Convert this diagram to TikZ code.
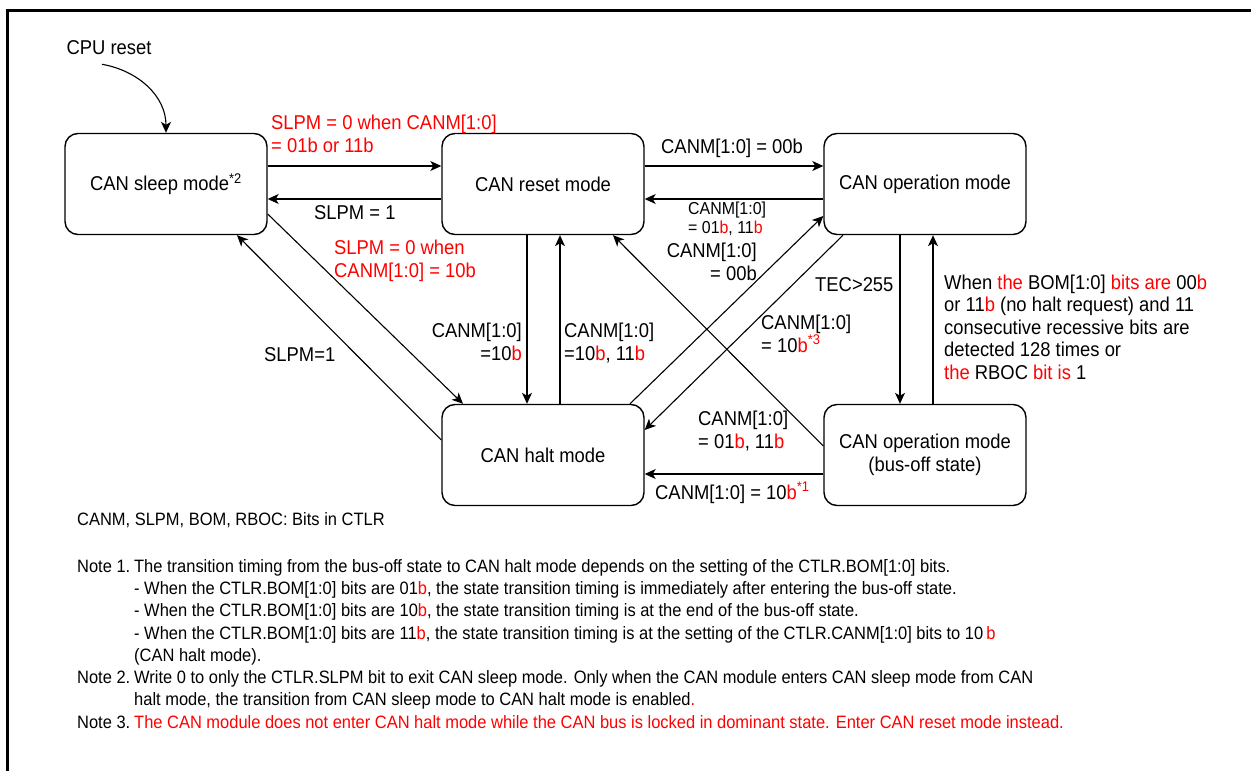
\documentclass[tikz,border=0pt]{standalone}
\usepackage{fontspec}
\setmainfont{Liberation Sans}[FakeStretch=0.92]
\usetikzlibrary{arrows.meta}
\newcommand\rd[1]{\textcolor{red}{#1}}
\newcommand\lblfont{\fontsize{20}{22.5}\selectfont}
\newcommand\smlfont{\fontsize{17.3}{18.5}\selectfont}
\newcommand\notefont{\fontsize{17.9}{22.3}\selectfont}
\newcommand\nt[1]{\makebox[57pt][l]{#1}}
\begin{document}
\begin{tikzpicture}
  [x=1pt,y=-1pt,every node/.style={inner sep=0pt,font=\lblfont}]
  \tikzstyle{modebox} = [draw,rounded corners=13pt,line width=1.4pt,minimum width=202pt,minimum height=101pt,align=center]
  \tikzstyle{trans} = [line width=1.1pt,-{Stealth[length=11pt,width=10pt,inset=3pt]}]
  \useasboundingbox (0,0) rectangle (1251,771);
  \draw[line width=3pt] (1251,10) -- (7.5,10) -- (7.5,771);
  % states
  \node[modebox] (sleep)  at (166,184) {CAN sleep mode\textsuperscript{*2}};
  \node[modebox] (reset)  at (543,184) {CAN reset mode};
  \node[modebox] (op)     at (925,184) {CAN operation mode};
  \node[modebox] (halt)   at (543,455) {CAN halt mode};
  \node[modebox] (busoff) at (925,455) {CAN operation mode\\(bus-off state)};
  \node (cpu) at (109,48) {CPU reset};
  % transitions
  \draw[trans] ([shift={(-7pt,-9pt)}]cpu.south) to[out=-10,in=90] (sleep.north);
  \foreach \src/\dst/\ys in {sleep.east/reset.west/18,reset.west/sleep.east/-15,reset.east/op.west/18,op.west/reset.east/-15,busoff.west/halt.east/-19}
    \draw[trans] ([yshift=\ys pt]\src) -- ([yshift=\ys pt]\dst);
  \foreach \src/\dst/\xs in {reset.south/halt.north/-16,halt.north/reset.south/17,op.south/busoff.north/-25,busoff.north/op.south/8}
    \draw[trans] ([xshift=\xs pt]\src) -- ([xshift=\xs pt]\dst);
  \draw[trans] ([yshift=-30pt]sleep.east) -- ([xshift=-80pt]halt.north);
  \draw[trans] ([yshift=15pt]halt.west) -- ([xshift=71pt]sleep.south);
  \draw[trans] ([xshift=87pt]halt.north) -- ([yshift=-32pt]op.west);
  \draw[trans] ([xshift=-82pt]op.south) -- ([yshift=25pt]halt.east);
  \draw[trans] ([yshift=9pt]busoff.west) -- ([xshift=70pt]reset.south);
  % labels
  \node[anchor=west,align=left,text=red] (lwake) at (271,134) {SLPM = 0 when CANM[1:0]\\= 01b or 11b};
  \node[anchor=west] (lsleep) at (314,213) {SLPM = 1};
  \node[anchor=west] (lstart) at (661,148) {CANM[1:0] = 00b};
  \node[anchor=west,align=left,font=\smlfont] (lstop) at (688,219) {CANM[1:0]\\= 01\rd{b}, 11\rd{b}};
  \node[anchor=east,align=right] (lreop) at (757,262) {CANM[1:0]\\= 00b};
  \node[anchor=west] (ltec) at (815,285) {TEC>255};
  \node[anchor=west,align=left] (lophalt) at (761,334) {CANM[1:0]\\= 10\rd{b\textsuperscript{*3}}};
  \node[anchor=east,align=right] (lhalt) at (522,342) {CANM[1:0]\\=10\rd{b}};
  \node[anchor=west,align=left] (lunhalt) at (564,343) {CANM[1:0]\\=10\rd{b}, 11\rd{b}};
  \node[anchor=west,align=left,text=red] (lwakehalt) at (334,261) {SLPM = 0 when\\CANM[1:0] = 10b};
  \node[anchor=west] (lsleephalt) at (264,355) {SLPM=1};
  \node[anchor=west,align=left] (lbusreset) at (698,431) {CANM[1:0]\\= 01\rd{b}, 11\rd{b}};
  \node[anchor=west] (lbushalt) at (655,493) {CANM[1:0] = 10\rd{b\textsuperscript{*1}}};
  \node[anchor=west,align=left] (lrecover) at (944,327) {When \rd{the} BOM[1:0] \rd{bits are} 00\rd{b}\\or 11\rd{b} (no halt request) and 11\\consecutive recessive bits are\\detected 128 times or\\\rd{the} RBOC \rd{bit is} 1};
  % notes
  \node[anchor=west,font=\notefont] (lbits) at (77,520) {CANM, SLPM, BOM, RBOC: Bits in CTLR};
  \node[anchor=north west,align=left,font=\notefont] (lnotes) at (77,559) {\nt{Note 1.}The transition timing from the bus-off state to CAN halt mode depends on the setting of the CTLR.BOM[1:0] bits.\\
    \nt{}- When the CTLR.BOM[1:0] bits are 01\rd{b}, the state transition timing is immediately after entering the bus-off state.\\
    \nt{}- When the CTLR.BOM[1:0] bits are 10\rd{b}, the state transition timing is at the end of the bus-off state.\\
    \nt{}- When the CTLR.BOM[1:0] bits are 11\rd{b}, the state transition timing is at the setting of the CTLR.CANM[1:0] bits to 10\,\rd{b}\\
    \nt{}(CAN halt mode).\\
    \nt{Note 2.}Write 0 to only the CTLR.SLPM bit to exit CAN sleep mode. Only when the CAN module enters CAN sleep mode from CAN\\
    \nt{}halt mode, the transition from CAN sleep mode to CAN halt mode is enabled\rd{.}\\
    \nt{Note 3.}\rd{The CAN module does not enter CAN halt mode while the CAN bus is locked in dominant state. Enter CAN reset mode instead.}};
\end{tikzpicture}
\end{document}
